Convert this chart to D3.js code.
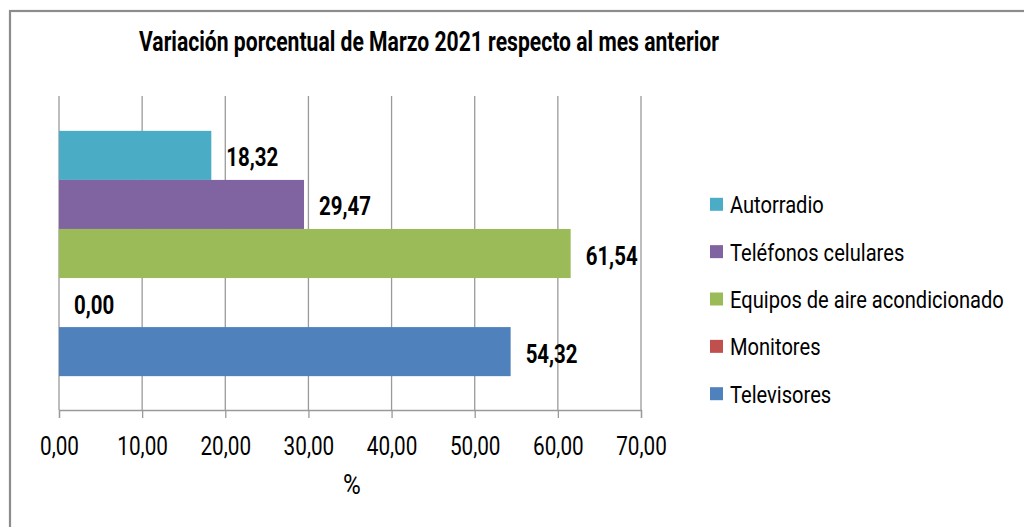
<!DOCTYPE html>
<html>
<head>
<meta charset="utf-8">
<script src="https://cdn.jsdelivr.net/npm/d3@7"></script>
<style>
  html, body { margin: 0; padding: 0; background: #fff; }
  svg { display: block; }
  text { font-family: Roboto, "Noto Sans", sans-serif; fill: #000; }
</style>
</head>
<body>
<svg id="chart" width="1024" height="527"></svg>
<script>
// ---- data ----
const title = "Variación porcentual de Marzo 2021 respecto al mes anterior";
const seriesNames = ["Autorradio", "Teléfonos celulares", "Equipos de aire acondicionado", "Monitores", "Televisores"];
const seriesValues = [18.32, 29.47, 61.54, 0.00, 54.32];
const seriesColors = ["#4bacc6", "#8064a2", "#9bbb59", "#c0504d", "#4f81bd"];
const xTicks = [0, 10, 20, 30, 40, 50, 60, 70];
const xAxisTitle = "%";

const fmt = v => d3.format(".2f")(v).replace(".", ",");

const svg = d3.select("#chart");

function factorFor(text, size, weight, target) {
  const t = svg.append("text").style("font-size", size + "px").style("font-weight", weight).text(text);
  const w = t.node().getComputedTextLength();
  t.remove();
  return target / w;
}
// place a text at (px,py) horizontally condensed by factor f
function placeCondensed(sel, px, py, f) {
  sel.attr("x", 0).attr("y", 0)
    .attr("transform", (d, i) => `translate(${typeof px === "function" ? px(d, i) : px},${typeof py === "function" ? py(d, i) : py}) scale(${f},1)`);
}

// border
svg.append("rect").attr("x", 10).attr("y", 11).attr("width", 1030).attr("height", 530)
  .attr("fill", "none").attr("stroke", "#8c8c8c").attr("stroke-width", 2.2);

// scales
const x = d3.scaleLinear().domain([0, 70]).range([59, 641]);
const y = d3.scaleBand().domain(seriesNames).range([97, 410]).paddingInner(0).paddingOuter(0.69);

// gridlines
const gridColor = "#9a9a9a";
svg.append("g").selectAll("line").data(xTicks).join("line")
  .attr("x1", d => x(d)).attr("x2", d => x(d))
  .attr("y1", 96).attr("y2", 410)
  .attr("stroke", gridColor).attr("stroke-width", 1.3);

// bars
svg.append("g").selectAll("rect").data(seriesNames).join("rect")
  .attr("x", x(0))
  .attr("y", d => y(d))
  .attr("width", (d, i) => x(seriesValues[i]) - x(0))
  .attr("height", y.bandwidth())
  .attr("fill", (d, i) => seriesColors[i]);

// x axis
const axis = svg.append("g").attr("transform", "translate(0,410)")
  .call(d3.axisBottom(x).tickValues(xTicks).tickFormat(fmt).tickSize(8).tickPadding(19));
axis.select(".domain").attr("stroke", gridColor).attr("stroke-width", 1.3);
axis.selectAll(".tick line").attr("stroke", gridColor).attr("stroke-width", 1.3);
const tickF = factorFor("0,00", 25, 400, 39);
axis.selectAll(".tick text")
  .style("font-family", "Roboto, sans-serif").style("font-size", "25px").attr("fill", "#000")
  .attr("dy", "0.71em")
  .attr("transform", `scale(${tickF},1)`);

// axis title
svg.append("text").attr("text-anchor", "middle")
  .style("font-size", "27px").text(xAxisTitle)
  .call(placeCondensed, 352, 494, 0.9);

// value labels
const labF = factorFor("18,32", 26, 700, 52);
svg.append("g").selectAll("text").data(seriesNames).join("text")
  .style("font-size", "26px").style("font-weight", 700)
  .text((d, i) => fmt(seriesValues[i]))
  .call(placeCondensed, (d, i) => x(seriesValues[i]) + 15, d => y(d) + y.bandwidth() / 2 + 11, labF);

// title
const titleF = factorFor(title, 28, 700, 580);
svg.append("text")
  .style("font-size", "28px").style("font-weight", 700)
  .text(title)
  .call(placeCondensed, 139, 50.5, titleF);

// legend
const legF = factorFor("Equipos de aire acondicionado", 23, 400, 274);
const legend = svg.append("g");
const rowY = d3.scaleLinear().domain([0, 4]).range([213.3, 402.7]);
const items = legend.selectAll("g").data(seriesNames).join("g")
  .attr("transform", (d, i) => `translate(0,${rowY(i)})`);
items.append("rect").attr("x", 710).attr("y", -15.5).attr("width", 13).attr("height", 13)
  .attr("fill", (d, i) => seriesColors[i]);
items.append("text")
  .style("font-size", "23px").text(d => d)
  .call(placeCondensed, 730, 0, legF);
</script>
</body>
</html>
